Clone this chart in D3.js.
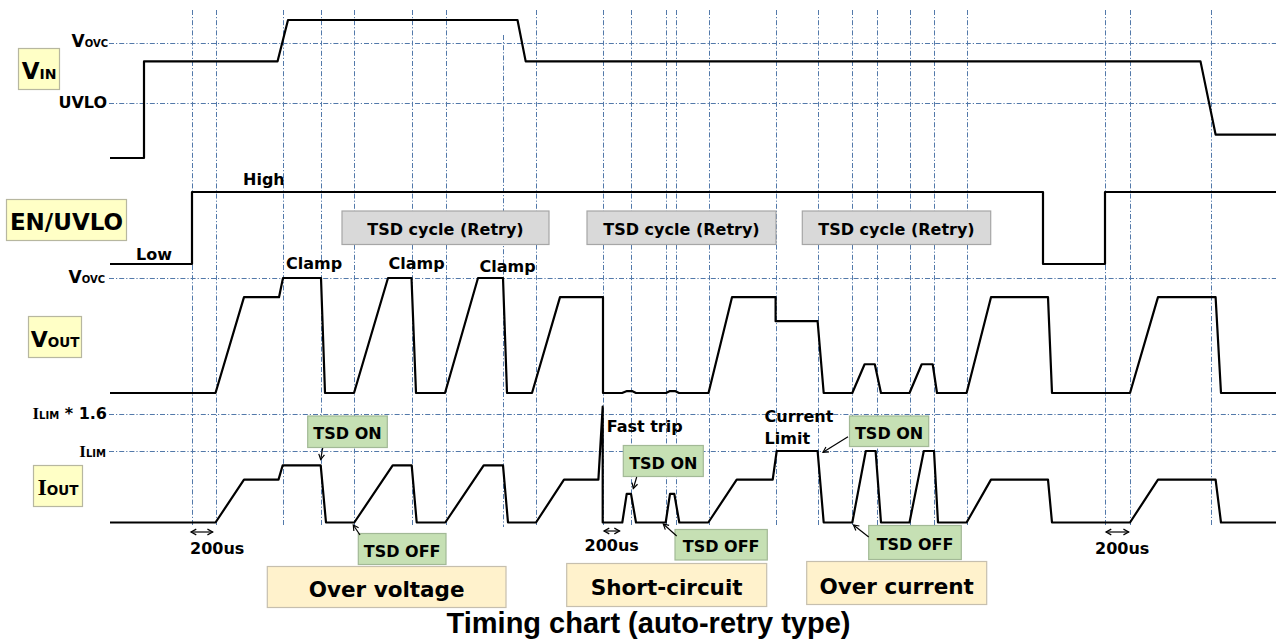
<!DOCTYPE html>
<html><head><meta charset="utf-8">
<script src="https://cdn.jsdelivr.net/npm/d3@7"></script>
<style>
body{margin:0;background:#fff}
svg{display:block}
text{font-family:"DejaVu Sans",Verdana,sans-serif;font-weight:bold;fill:#000}
</style>
</head><body>
<svg id="c" width="1276" height="641"></svg>
<script>
// ---------------- DATA ----------------
// time axis in arbitrary units (0 = left end of traces)
const gridTimes = [82,105.5,173,211,244,302,336,393,425.5,493,521,556,565.7,598.5,665.6,707.6,742.3,767,799.5,824,856.6,995,1020,1101];
const gridLateStart = [393];

// VIN (V)
const vinT = [0,34,34,167.5,178,407.5,415.7,1090.5,1105.6,1166];
const vinV = [0,0,7,7,10,10,7,7,1.7,1.7];
const vinLevels = [{name:"OVC", v:8.33}, {name:"UVLO", v:4}];

// EN/UVLO (logic)
const enT = [0,82,82,933,933,995,995,1166];
const enV = [0,0,1,1,0,0,1,1];

// VOUT (V)
const voutT = [0,105.5,134,169,173,211,215,244,278,301.5,306,335,368,393,397,422,450,493,493,512,517,522,526,556,560,565,569,598.5,622,665.6,665.6,707.6,713.7,742.3,754.6,764.8,771,799.5,811.7,822.7,827,856.6,881,938,942,1020,1048,1105.6,1111,1166];
const voutV = [0,0,5,5,6,6,0,0,6,6,0,0,6,6,0,0,5,5,0,0,0.1,0.1,0,0,0.1,0.1,0,0,5,5,3.75,3.75,0,0,1.5,1.5,0,0,1.5,1.5,0,0,5,5,0,0,5,5,0,0];
const voutLevels = [{name:"OVC", v:6}];

// IOUT (relative to ILIM)
const ioutT = [0,105.5,134,168.5,172.7,210.7,216,244.3,282.7,301.7,306.7,335.3,373.7,393,398,426,454,488.4,492.7,492.7,512.3,516.7,521,526,555.7,560,564.3,569.3,598.3,626.7,662.7,666.7,707.6,713.7,742.3,755.8,765.6,771,799.5,813.8,824,828,856.6,881,938,942,1020,1048,1105.6,1111,1166];
const ioutV = [0,0,0.6,0.6,0.8,0.8,0,0,0.8,0.8,0,0,0.8,0.8,0,0,0.6,0.6,1.62,0,0,0.4,0.4,0,0,0.4,0.4,0,0,0.6,0.6,1,1,0,0,1,1,0,0,1,1,0,0,0.6,0.6,0,0,0.6,0.6,0,0];
const ioutLevels = [{name:"LIM16", v:1.52}, {name:"LIM", v:1}];

// annotation texts
const tsdCycleLabels = ["TSD cycle (Retry)","TSD cycle (Retry)","TSD cycle (Retry)"];
const tsdCycleSpans = [[232,439],[477,666],[692.3,880.7]];
const categoryLabels = ["Over voltage","Short-circuit","Over current"];
const categorySpans = [[157.3,396],[456.7,656.7],[696.7,876.7]];
const clampTimes = [176,278.5,369.6];
const spanLabel = "200us";
const spanArrows = [[81,102.7],[494,509.6],[996,1018.7]];
const titleText = "Timing chart (auto-retry type)";

// ---------------- LAYOUT ----------------
const svg = d3.select("#c");
const x = d3.scaleLinear().domain([0,1166]).range([110,1276]);
const yVin = d3.scaleLinear().domain([0,10]).range([158,20]);
const yEn = d3.scaleLinear().domain([0,1]).range([264,192]);
const yVout = d3.scaleLinear().domain([0,6]).range([393,278]);
const yIout = d3.scaleLinear().domain([0,1]).range([522.5,451]);

const gridColor = "#36629c";
const dash = "5,2,1.2,2";

// grid verticals
const gG = svg.append("g").attr("stroke",gridColor).attr("stroke-width",1).attr("stroke-dasharray",dash).attr("opacity",0.85);
gG.selectAll("line.v").data(gridTimes).join("line")
  .attr("x1",d=>Math.round(x(d))+0.5).attr("x2",d=>Math.round(x(d))+0.5)
  .attr("y1",d=>gridLateStart.includes(d)?35:10).attr("y2",527);
// grid horizontals
const hLevels = [
  ...vinLevels.map(l=>yVin(l.v)),
  ...voutLevels.map(l=>yVout(l.v)),
  ...ioutLevels.map(l=>yIout(l.v))
];
gG.selectAll("line.h").data(hLevels).join("line")
  .attr("x1",109).attr("x2",1276)
  .attr("y1",d=>Math.round(d)+0.5).attr("y2",d=>Math.round(d)+0.5);

// waveforms
function wave(T,V,ys){
  const pts = T.map((t,i)=>[x(t),ys(V[i])]);
  svg.append("path").attr("d",d3.line()(pts)).attr("fill","none")
    .attr("stroke","#000").attr("stroke-width",2.2).attr("stroke-linejoin","round");
}
wave(vinT,vinV,yVin);
wave(enT,enV,yEn);
wave(voutT,voutV,yVout);
wave(ioutT,ioutV,yIout);

// helpers
function rich(xp,yp,parts,anchor){
  const t = svg.append("text").attr("x",xp).attr("y",yp).attr("text-anchor",anchor||"start");
  parts.forEach(p=>{
    const s=t.append("tspan").text(p[0]).attr("font-size",p[1]);
    if(p[2]) s.style("font-family","'Liberation Serif','Times New Roman',serif");
  });
  return t;
}
function box(x0,y0,x1,y1,fill,stroke){
  svg.append("rect").attr("x",x0).attr("y",y0).attr("width",x1-x0).attr("height",y1-y0)
    .attr("fill",fill).attr("stroke",stroke).attr("stroke-width",1.2);
}
function head(x1,y1,x2,y2,len){
  const a=Math.atan2(y2-y1,x2-x1), s=0.5;
  const p=d3.path();
  p.moveTo(x2-len*Math.cos(a-s),y2-len*Math.sin(a-s));
  p.lineTo(x2,y2);
  p.lineTo(x2-len*Math.cos(a+s),y2-len*Math.sin(a+s));
  return p.toString();
}
function arrow(x1,y1,x2,y2,both){
  const g=svg.append("g").attr("stroke","#000").attr("fill","none").attr("stroke-width",1.2);
  g.append("line").attr("x1",x1).attr("y1",y1).attr("x2",x2).attr("y2",y2);
  g.append("path").attr("d",head(x1,y1,x2,y2,6));
  if(both) g.append("path").attr("d",head(x2,y2,x1,y1,6));
}

// left level labels
rich(108,47,[["V",17],["OVC",10]],"end");
rich(107,108,[["UVLO",16]],"end");
rich(105,283,[["V",17],["OVC",10]],"end");
rich(107,419,[["I",17,true],["LIM",10],[" * 1.6",16]],"end");
rich(106,457,[["I",17,true],["LIM",10]],"end");

// signal name boxes
const nameFill="#ffffc6", nameStroke="#b7b7a0";
box(18.5,48.5,59.5,89.5,nameFill,nameStroke);
rich(39,79,[["V",23],["IN",14]],"middle");
box(6.5,199.5,126.5,240.5,nameFill,nameStroke);
rich(66.5,230,[["EN/UVLO",23]],"middle");
box(28.5,316.5,81.5,357.5,nameFill,nameStroke);
rich(55,346.5,[["V",22],["OUT",13.5]],"middle");
box(33.5,465.5,82.5,506.5,nameFill,nameStroke);
rich(58,494.5,[["I",24,true],["OUT",13.5]],"middle");

// High / Low / Clamp
rich(x(133),185,[["High",16]]);
rich(x(26),260,[["Low",16]]);
clampTimes.forEach((t,i)=>rich(x(t),i==2?272:269,[["Clamp",16]]));

// TSD cycle boxes
tsdCycleSpans.forEach((s,i)=>{
  box(x(s[0]),211,x(s[1]),244.5,"#d9d9d9","#a6a6a6");
  rich((x(s[0])+x(s[1]))/2,235,[[tsdCycleLabels[i],16]],"middle");
});

// TSD ON / OFF boxes
const gFill="#c6e0b4", gStroke="#a2b996";
const tsdBoxes = [
  {lab:"TSD ON", t0:197.7,t1:277.3,y0:416,y1:447.5,by:438.5, a:[212.7,448,210.7,459.5]},
  {lab:"TSD OFF",t0:248.3,t1:336,y0:533.5,y1:564.5,by:557, a:[250,535,243.3,525]},
  {lab:"TSD ON", t0:513.3,t1:593.3,y0:445.5,y1:476.5,by:468.5, a:[526.7,477,523.3,488.5]},
  {lab:"TSD OFF",t0:565,t1:657.3,y0:529.5,y1:560,by:552, a:[566.7,536,553.3,524]},
  {lab:"TSD ON", t0:739.5,t1:818.7,y0:416,y1:446.5,by:438.5, a:[738,436.7,713,452.3]},
  {lab:"TSD OFF",t0:758.7,t1:851.3,y0:525.5,y1:559.5,by:549.5, a:[758.7,537,743.5,525]}
];
tsdBoxes.forEach(b=>{
  box(x(b.t0),b.y0,x(b.t1),b.y1,gFill,gStroke);
  rich((x(b.t0)+x(b.t1))/2,b.by,[[b.lab,16]],"middle");
  arrow(x(b.a[0]),b.a[1],x(b.a[2]),b.a[3],false);
});

// Fast trip / Current Limit
rich(x(496.7),431.5,[["Fast trip",16]]);
rich(x(654.6),421.5,[["Current",16]]);
rich(x(654.6),443.5,[["Limit",16]]);

// 200us spans
const spanLabelT=[80,474.5,985], spanLabelY=[554,551,554], spanArrowY=[532,531,532];
spanArrows.forEach((s,i)=>{
  arrow(x(s[0]),spanArrowY[i],x(s[1]),spanArrowY[i],true);
  rich(x(spanLabelT[i]),spanLabelY[i],[[spanLabel,16]]);
});

// category boxes
const catY=[[566.5,607.5,597],[563.5,606.5,595],[561.5,604.5,593.5]];
categorySpans.forEach((s,i)=>{
  box(x(s[0]),catY[i][0],x(s[1]),catY[i][1],"#fff2cc","#c6bfae");
  rich((x(s[0])+x(s[1]))/2,catY[i][2],[[categoryLabels[i],21.5]],"middle");
});

// title
svg.append("text").attr("x",648.5).attr("y",633).attr("text-anchor","middle")
  .style("font-family","'Liberation Sans',Arial,sans-serif").attr("font-size",29).text(titleText);
</script>
</body></html>
